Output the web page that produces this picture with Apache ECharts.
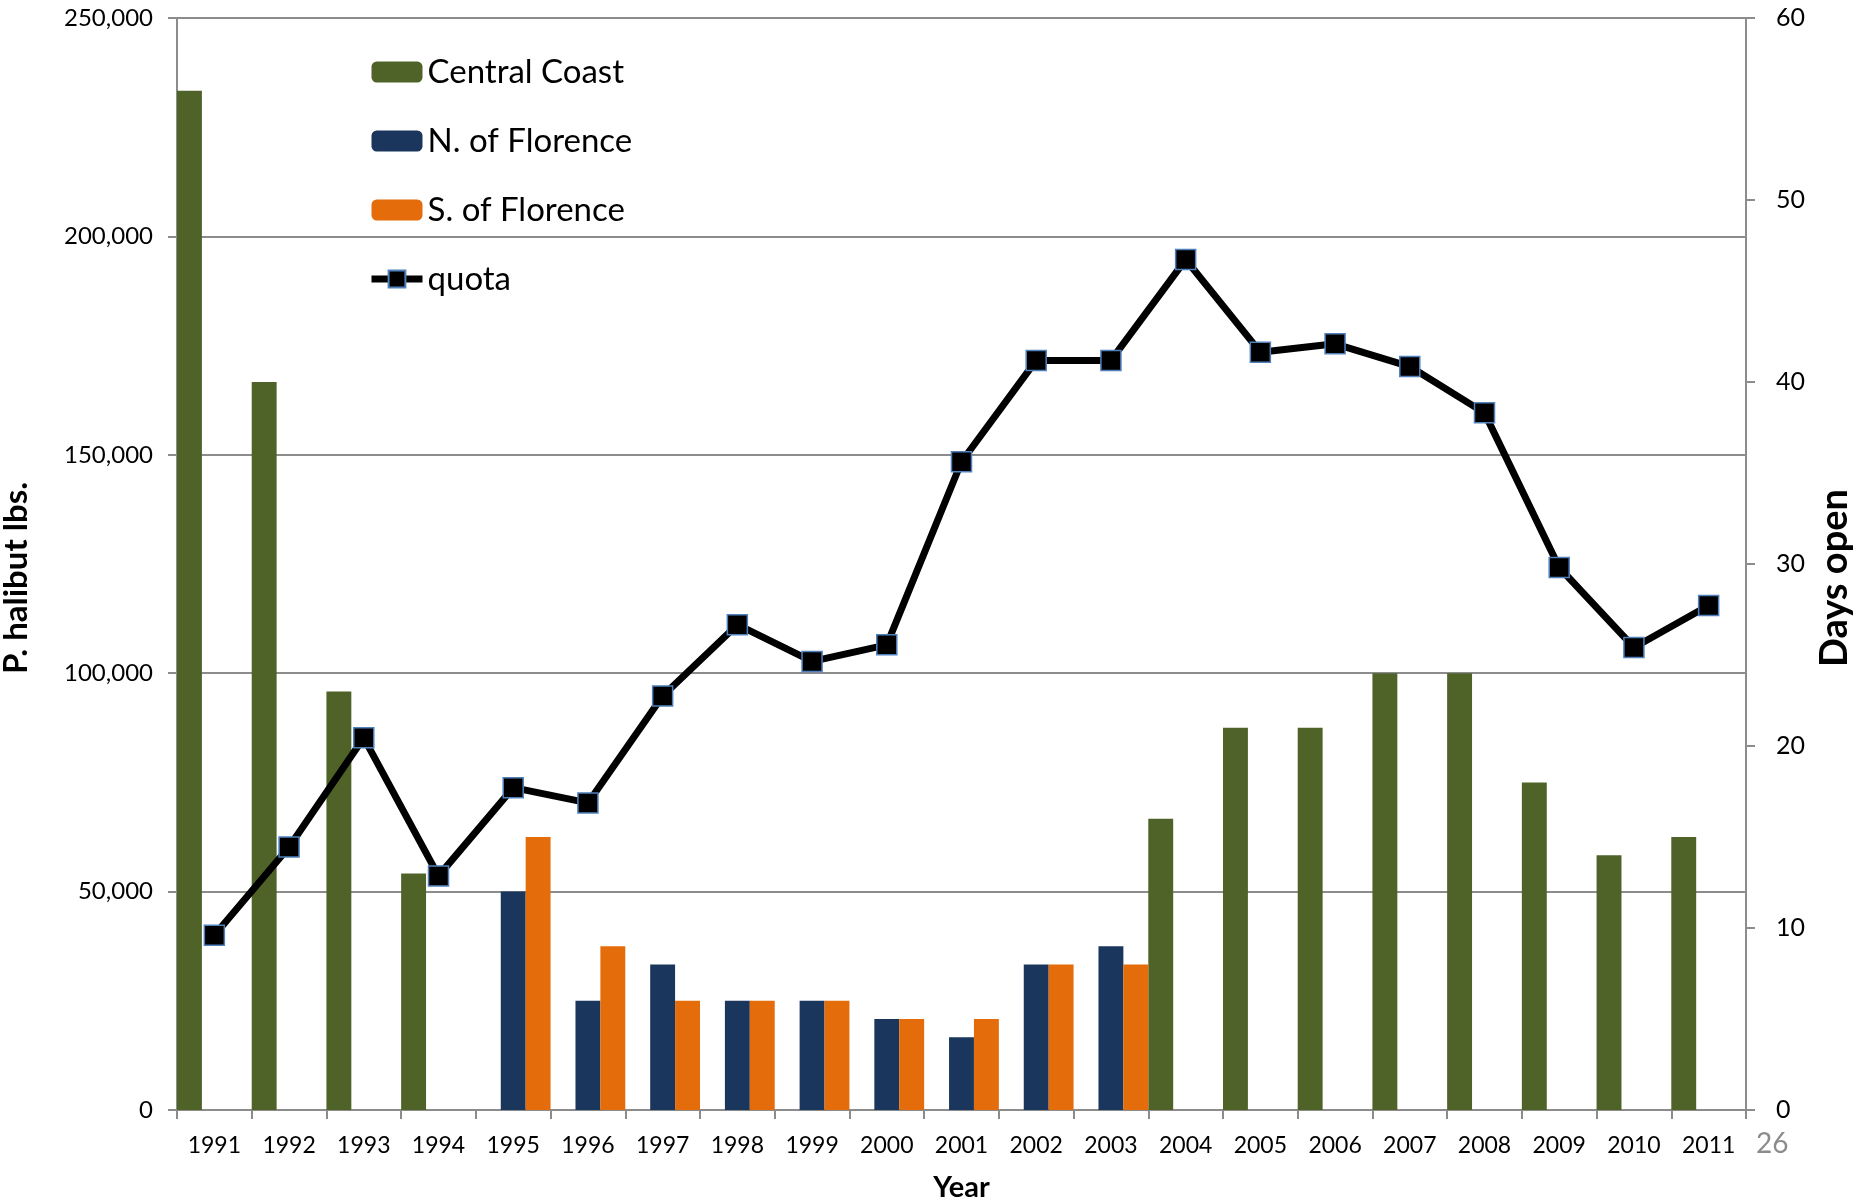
<!DOCTYPE html>
<html lang="en">
<head>
  <meta charset="utf-8">
  <style>
    html, body { margin: 0; padding: 0; background: #fff; }
    #container { width: 1866px; height: 1202px; }
  </style>
  <title>P. halibut quota and days open</title>
</head>
<body>
  <div id="container"></div>

  <script type="text/javascript" src="https://fastly.jsdelivr.net/npm/echarts@6.0.0/dist/echarts.min.js"></script>
  <script type="text/javascript">
    // values
    var years = ['1991', '1992', '1993', '1994', '1995', '1996', '1997', '1998', '1999', '2000', '2001',
                 '2002', '2003', '2004', '2005', '2006', '2007', '2008', '2009', '2010', '2011'];
    // days open (right axis)
    var centralCoast = [56, 40, 23, 13, null, null, null, null, null, null, null,
                        null, null, 16, 21, 21, 24, 24, 18, 14, 15];
    var northFlorence = [null, null, null, null, 12, 6, 8, 6, 6, 5, 4,
                         8, 9, null, null, null, null, null, null, null, null];
    var southFlorence = [null, null, null, null, 15, 9, 6, 6, 6, 5, 5,
                         8, 8, null, null, null, null, null, null, null, null];
    // quota in lbs (left axis)
    var quota = [40000, 60200, 85200, 53600, 73800, 70300, 94800, 111100, 102700, 106500, 148400,
                 171600, 171600, 194700, 173500, 175400, 170200, 159600, 124200, 105900, 115500];

    var FONT = 'Lato, "Noto Sans", sans-serif';
    var GRID = '#8c8c8c';

    var myChart = echarts.init(document.getElementById('container'));

    var option = {
      animation: false,
      textStyle: { fontFamily: FONT, color: '#000' },
      grid: { left: 177, right: 120, top: 18, bottom: 92, outerBoundsMode: 'none' },
      legend: {
        orient: 'vertical',
        left: 363,
        top: 50,
        itemWidth: 51,
        itemHeight: 21,
        itemGap: 35,
        textStyle: { fontFamily: FONT, fontSize: 33, lineHeight: 34, color: '#000' },
        data: ['Central Coast', 'N. of Florence', 'S. of Florence',
               { name: 'quota', lineStyle: { width: 7 } }]
      },
      xAxis: {
        type: 'category',
        data: years,
        name: 'Year',
        nameLocation: 'middle',
        nameGap: 63,
        nameTextStyle: { fontFamily: FONT, fontWeight: 'bold', fontSize: 29 },
        axisLine: { lineStyle: { color: GRID, width: 2 } },
        axisTick: { show: true, interval: 0, length: 9, lineStyle: { color: GRID, width: 2 } },
        axisLabel: { interval: 0, margin: 24, fontSize: 23, color: '#000' }
      },
      yAxis: [{
        type: 'value',
        min: 0,
        max: 250000,
        interval: 50000,
        name: 'P. halibut lbs.',
        nameLocation: 'middle',
        nameGap: 144,
        nameRotate: 90,
        nameTextStyle: { fontFamily: FONT, fontWeight: 'bold', fontSize: 33, padding: [0, 28, 0, 0] },
        axisLine: { show: true, lineStyle: { color: GRID, width: 2 } },
        axisTick: { show: true, length: 9, lineStyle: { color: GRID, width: 2 } },
        axisLabel: {
          margin: 24, fontSize: 24, color: '#000',
          formatter: function (v) { return v.toLocaleString('en-US'); }
        },
        splitLine: { show: true, lineStyle: { color: GRID, width: 2 } }
      }, {
        type: 'value',
        min: 0,
        max: 60,
        interval: 10,
        position: 'right',
        name: 'Days open',
        nameLocation: 'middle',
        nameGap: 61,
        nameRotate: 90,
        nameTextStyle: { fontFamily: FONT, fontWeight: 'bold', fontSize: 38, padding: [0, 28, 0, 0] },
        axisLine: { show: true, lineStyle: { color: GRID, width: 2 } },
        axisTick: { show: true, length: 9, lineStyle: { color: GRID, width: 2 } },
        axisLabel: { margin: 30, fontSize: 25, color: '#000' },
        splitLine: { show: false }
      }],
      series: [{
        name: 'Central Coast',
        type: 'bar',
        yAxisIndex: 1,
        data: centralCoast,
        barGap: '0%',
        barCategoryGap: '0%',
        itemStyle: { color: '#4F6228' }
      }, {
        name: 'N. of Florence',
        type: 'bar',
        yAxisIndex: 1,
        data: northFlorence,
        barGap: '0%',
        barCategoryGap: '0%',
        itemStyle: { color: '#1B365D' }
      }, {
        name: 'S. of Florence',
        type: 'bar',
        yAxisIndex: 1,
        data: southFlorence,
        barGap: '0%',
        barCategoryGap: '0%',
        itemStyle: { color: '#E46C0A' }
      }, {
        name: 'quota',
        type: 'line',
        yAxisIndex: 0,
        data: quota,
        z: 5,
        symbol: 'rect',
        symbolSize: 20,
        lineStyle: { color: '#000', width: 7 },
        itemStyle: { color: '#000', borderColor: '#4F81BD', borderWidth: 1.5 }
      }],
      graphic: [{
        type: 'text',
        left: 1756,
        top: 1130,
        style: { text: '26', fontFamily: FONT, fontSize: 28, fill: '#8c8c8c' }
      }]
    };

    myChart.setOption(option);
  </script>
</body>
</html>
